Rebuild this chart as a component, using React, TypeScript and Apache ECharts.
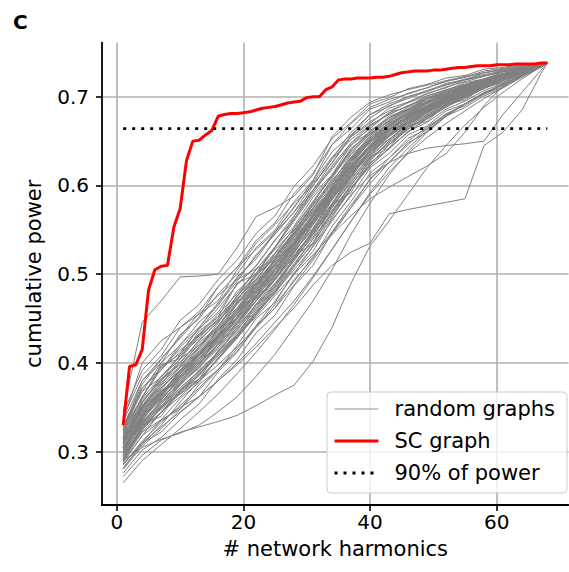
import React, { useEffect, useRef } from "react";
import * as echarts from "echarts";

// x positions (number of network harmonics)
const harmonics = [
  1, 2, 3, 4, 5, 6, 7, 8, 9, 10, 11, 12, 13, 14, 15, 16, 17, 18, 19, 20,
  21, 22, 23, 24, 25, 26, 27, 28, 29, 30, 31, 32, 33, 34, 35, 36, 37, 38, 39, 40,
  41, 42, 43, 44, 45, 46, 47, 48, 49, 50, 51, 52, 53, 54, 55, 56, 57, 58, 59, 60,
  61, 62, 63, 64, 65, 66, 67, 68,
];

// cumulative power of the SC graph
const scGraph = [
  0.330, 0.396, 0.398, 0.415, 0.482, 0.505, 0.509, 0.510, 0.553, 0.574,
  0.628, 0.650, 0.651, 0.657, 0.662, 0.678, 0.680, 0.681, 0.681, 0.682,
  0.683, 0.685, 0.687, 0.688, 0.689, 0.691, 0.693, 0.694, 0.695, 0.699,
  0.700, 0.700, 0.708, 0.711, 0.719, 0.720, 0.720, 0.721, 0.721, 0.721,
  0.722, 0.722, 0.723, 0.725, 0.727, 0.728, 0.729, 0.729, 0.729, 0.730,
  0.730, 0.731, 0.732, 0.733, 0.733, 0.734, 0.735, 0.735, 0.735, 0.736,
  0.736, 0.736, 0.737, 0.737, 0.737, 0.737, 0.738, 0.738,
];

// 90% of total power
const powerThreshold = 0.664;
const thresholdRange = [1, 68];

// harmonics at which random graph curves were read
const sampledHarmonics = [1, 4, 7, 10, 13, 16, 19, 22, 25, 28, 31, 34, 37, 40, 43, 46, 49, 52, 55, 58, 61, 64, 67, 68];

// random graphs cumulative power (thousandths)
const randomGraphs = [
  [345, 446, 470, 497, 498, 500, 530, 565, 575, 588, 612, 655, 677, 694, 702, 708, 713, 718, 723, 727, 731, 734, 737, 738],
  [335, 400, 425, 440, 455, 470, 505, 535, 556, 580, 600, 630, 660, 680, 692, 700, 707, 714, 720, 725, 729, 733, 737, 738],
  [325, 380, 405, 428, 452, 486, 508, 528, 548, 575, 606, 646, 670, 688, 697, 703, 710, 717, 722, 727, 731, 734, 737, 738],
  [320, 372, 392, 421, 440, 466, 492, 522, 545, 570, 595, 626, 656, 676, 690, 698, 706, 713, 719, 724, 728, 732, 736, 738],
  [316, 362, 396, 410, 433, 455, 478, 505, 531, 562, 592, 620, 645, 666, 682, 694, 703, 711, 717, 723, 728, 732, 736, 738],
  [313, 352, 377, 401, 425, 447, 471, 498, 520, 549, 580, 612, 640, 660, 676, 688, 698, 706, 713, 720, 726, 731, 736, 738],
  [309, 349, 372, 392, 416, 441, 468, 492, 516, 542, 572, 600, 631, 652, 668, 680, 690, 700, 709, 717, 723, 729, 736, 738],
  [305, 338, 363, 386, 405, 428, 456, 480, 506, 533, 560, 590, 621, 643, 660, 674, 686, 696, 705, 714, 721, 728, 735, 738],
  [300, 333, 356, 378, 398, 421, 446, 470, 498, 526, 552, 580, 610, 636, 655, 670, 682, 693, 703, 712, 720, 727, 735, 738],
  [296, 326, 349, 372, 391, 412, 438, 462, 490, 515, 545, 572, 601, 628, 650, 666, 680, 691, 701, 711, 719, 727, 735, 738],
  [286, 312, 333, 352, 372, 393, 413, 440, 466, 492, 520, 548, 578, 606, 631, 650, 666, 680, 692, 703, 713, 723, 734, 738],
  [290, 318, 335, 350, 362, 380, 398, 418, 440, 462, 488, 510, 525, 535, 568, 573, 577, 581, 585, 645, 660, 685, 726, 738],
  [272, 296, 313, 322, 328, 334, 341, 352, 364, 375, 402, 440, 490, 532, 560, 590, 620, 645, 668, 688, 705, 720, 734, 738],
  [302, 331, 352, 372, 390, 410, 431, 455, 480, 505, 531, 560, 590, 611, 626, 636, 642, 645, 647, 650, 680, 705, 730, 738],
  [298, 340, 360, 375, 398, 430, 470, 500, 530, 565, 600, 630, 652, 668, 680, 690, 698, 705, 712, 719, 725, 730, 736, 738],
  [318, 350, 375, 405, 420, 438, 455, 475, 498, 525, 552, 585, 618, 645, 666, 682, 694, 703, 711, 718, 724, 730, 736, 738],
  [308, 355, 382, 398, 418, 445, 475, 506, 528, 550, 575, 608, 640, 662, 676, 686, 695, 703, 711, 718, 724, 730, 736, 738],
  [292, 330, 358, 385, 410, 432, 452, 478, 505, 535, 566, 595, 622, 642, 658, 672, 684, 695, 705, 714, 722, 729, 736, 738],
  [315, 345, 368, 388, 412, 436, 458, 483, 510, 538, 568, 598, 628, 650, 667, 680, 690, 699, 708, 716, 722, 729, 736, 738],
  [303, 342, 365, 382, 405, 425, 452, 478, 500, 528, 558, 586, 612, 638, 658, 672, 684, 694, 704, 713, 720, 728, 735, 738],
  [312, 358, 380, 400, 420, 442, 466, 490, 512, 536, 565, 592, 615, 638, 656, 670, 683, 695, 705, 714, 721, 728, 735, 738],
  [306, 336, 360, 382, 402, 426, 450, 474, 500, 532, 562, 592, 624, 650, 668, 680, 689, 698, 707, 715, 722, 729, 736, 738],
  [298, 328, 354, 380, 400, 418, 442, 470, 496, 522, 548, 578, 608, 632, 652, 668, 682, 694, 704, 713, 721, 728, 735, 738],
  [325, 368, 384, 408, 432, 452, 472, 495, 520, 546, 574, 604, 632, 654, 670, 682, 692, 701, 709, 717, 723, 729, 736, 738],
  [288, 318, 345, 368, 388, 410, 434, 460, 488, 518, 550, 584, 615, 640, 658, 672, 684, 695, 705, 714, 721, 728, 735, 738],
  [310, 344, 362, 380, 400, 420, 446, 475, 505, 535, 562, 588, 612, 634, 652, 668, 682, 694, 704, 713, 721, 728, 735, 738],
  [300, 336, 362, 392, 418, 440, 462, 485, 510, 535, 560, 588, 618, 644, 662, 676, 687, 697, 706, 714, 721, 728, 735, 738],
  [282, 308, 330, 356, 380, 405, 430, 455, 482, 510, 540, 570, 600, 628, 650, 666, 680, 692, 702, 712, 720, 728, 735, 738],
  [320, 352, 372, 392, 410, 428, 450, 472, 495, 520, 548, 578, 610, 640, 662, 678, 690, 700, 709, 717, 723, 729, 736, 738],
  [305, 340, 370, 395, 412, 432, 458, 488, 518, 548, 578, 606, 630, 650, 664, 676, 687, 697, 706, 714, 721, 728, 735, 738],
  [296, 322, 344, 366, 386, 408, 432, 458, 486, 516, 545, 575, 606, 634, 656, 672, 684, 694, 704, 713, 721, 728, 735, 738],
  [314, 350, 374, 396, 418, 442, 468, 494, 520, 545, 570, 596, 622, 646, 663, 676, 688, 698, 707, 715, 722, 729, 736, 738],
  [290, 324, 350, 375, 396, 418, 444, 470, 494, 520, 548, 580, 612, 640, 660, 674, 686, 696, 705, 714, 721, 728, 735, 738],
  [300, 330, 348, 365, 380, 398, 418, 440, 462, 488, 516, 545, 575, 602, 626, 646, 664, 679, 692, 704, 714, 724, 734, 738],
  [308, 340, 360, 380, 402, 424, 448, 470, 494, 520, 546, 572, 598, 622, 642, 660, 676, 690, 702, 712, 720, 728, 735, 738],
  [322, 360, 385, 408, 428, 450, 475, 500, 524, 552, 582, 612, 638, 658, 672, 684, 694, 703, 711, 718, 724, 730, 736, 738],
  [295, 325, 345, 362, 382, 405, 430, 456, 484, 512, 540, 568, 596, 624, 646, 664, 678, 690, 701, 711, 720, 728, 735, 738],
  [285, 310, 328, 345, 362, 380, 400, 422, 446, 470, 498, 528, 560, 590, 615, 636, 654, 670, 684, 698, 710, 722, 734, 738],
  [302, 332, 358, 385, 408, 430, 455, 480, 505, 530, 556, 584, 612, 636, 656, 671, 684, 695, 705, 714, 721, 728, 735, 738],
  [312, 346, 366, 384, 404, 428, 455, 485, 515, 545, 575, 602, 628, 648, 664, 677, 688, 698, 707, 715, 722, 729, 736, 738],
  [299, 338, 366, 390, 410, 430, 452, 476, 502, 530, 560, 590, 620, 644, 662, 676, 688, 698, 707, 715, 722, 729, 736, 738],
  [316, 348, 368, 388, 408, 430, 452, 478, 505, 532, 562, 594, 626, 652, 670, 683, 693, 702, 710, 717, 723, 729, 736, 738],
  [280, 306, 326, 348, 370, 392, 416, 442, 470, 500, 532, 564, 596, 624, 646, 663, 677, 689, 700, 710, 719, 727, 735, 738],
  [290, 305, 314, 321, 330, 345, 362, 385, 410, 440, 470, 505, 545, 580, 612, 638, 660, 678, 692, 704, 714, 724, 734, 738],
  [265, 290, 308, 326, 345, 365, 388, 412, 438, 466, 496, 528, 560, 592, 620, 642, 662, 678, 692, 704, 714, 724, 734, 738],
  [330, 372, 395, 415, 430, 448, 468, 490, 514, 540, 568, 598, 628, 652, 668, 681, 692, 701, 709, 717, 723, 729, 736, 738],
  [304, 334, 354, 376, 396, 416, 440, 466, 494, 524, 556, 588, 618, 642, 660, 674, 686, 696, 705, 714, 721, 728, 735, 738],
  [310, 342, 366, 388, 410, 434, 460, 486, 512, 538, 566, 594, 622, 646, 663, 676, 687, 697, 706, 714, 721, 728, 735, 738],
  [286, 310, 336, 348, 376, 392, 420, 450, 468, 502, 526, 562, 588, 620, 636, 657, 667, 684, 692, 705, 713, 725, 734, 738],
  [334, 380, 400, 432, 450, 478, 500, 530, 550, 582, 606, 638, 657, 680, 689, 700, 706, 715, 719, 727, 730, 734, 737, 738],
  [291, 322, 336, 360, 378, 406, 428, 458, 478, 510, 534, 570, 596, 626, 641, 661, 671, 686, 695, 707, 715, 726, 734, 738],
  [329, 368, 400, 420, 446, 465, 497, 517, 547, 570, 603, 625, 655, 670, 687, 694, 704, 710, 719, 723, 729, 733, 737, 738],
  [296, 328, 344, 368, 386, 414, 436, 466, 486, 518, 542, 577, 603, 632, 646, 666, 675, 690, 698, 710, 716, 727, 735, 738],
  [324, 362, 393, 412, 439, 457, 489, 509, 539, 562, 595, 618, 648, 664, 682, 689, 701, 707, 716, 720, 728, 731, 737, 738],
  [300, 335, 351, 377, 394, 422, 444, 474, 494, 527, 550, 585, 609, 639, 652, 670, 679, 694, 701, 712, 718, 728, 735, 738],
  [320, 355, 385, 404, 431, 449, 481, 501, 531, 554, 587, 610, 642, 658, 676, 685, 698, 703, 713, 718, 726, 730, 737, 738],
  [281, 310, 322, 344, 362, 390, 412, 442, 462, 494, 518, 554, 582, 614, 631, 653, 664, 681, 690, 703, 711, 724, 734, 738],
  [339, 386, 408, 440, 458, 486, 508, 538, 558, 591, 614, 646, 664, 686, 694, 704, 710, 718, 722, 729, 732, 735, 738, 738],
  [305, 340, 359, 384, 402, 430, 452, 482, 502, 535, 558, 592, 616, 645, 657, 675, 683, 697, 703, 714, 720, 728, 736, 738],
  [315, 349, 378, 396, 423, 441, 473, 493, 523, 546, 579, 603, 635, 652, 671, 680, 694, 700, 711, 716, 724, 730, 736, 738],
  [276, 302, 316, 336, 354, 382, 404, 434, 454, 487, 510, 547, 575, 608, 626, 648, 660, 678, 688, 701, 710, 723, 733, 738],
  [344, 392, 415, 448, 466, 494, 516, 546, 566, 599, 622, 653, 671, 692, 699, 709, 714, 721, 724, 731, 733, 736, 738, 738],
  [310, 347, 366, 392, 410, 437, 460, 489, 510, 542, 566, 599, 623, 650, 662, 679, 686, 700, 705, 716, 721, 730, 736, 738],
  [325, 372, 392, 418, 438, 462, 488, 510, 538, 566, 594, 622, 648, 668, 680, 690, 699, 707, 714, 720, 726, 731, 736, 738],
  [322, 360, 398, 405, 436, 452, 490, 500, 530, 560, 590, 612, 646, 660, 678, 686, 698, 704, 713, 719, 725, 731, 736, 738],
  [292, 326, 350, 368, 392, 412, 440, 466, 490, 518, 548, 575, 604, 630, 648, 664, 678, 690, 700, 710, 719, 727, 735, 738],
  [288, 330, 340, 370, 382, 414, 430, 465, 480, 520, 535, 578, 592, 632, 642, 668, 672, 692, 696, 712, 716, 728, 734, 738],
  [318, 356, 382, 400, 426, 446, 476, 498, 524, 552, 582, 610, 636, 658, 673, 685, 694, 703, 711, 718, 724, 730, 736, 738],
  [300, 334, 356, 378, 400, 422, 450, 474, 500, 528, 556, 585, 614, 638, 656, 671, 684, 694, 704, 713, 721, 728, 735, 738],
  [310, 352, 380, 410, 440, 468, 495, 520, 548, 576, 604, 632, 655, 672, 684, 693, 701, 708, 714, 720, 726, 731, 736, 738],
  [305, 332, 350, 366, 382, 404, 428, 454, 480, 508, 536, 566, 596, 622, 642, 660, 675, 688, 699, 709, 718, 727, 735, 738],
  [294, 340, 364, 392, 410, 426, 450, 482, 508, 534, 560, 588, 616, 640, 658, 672, 685, 696, 705, 714, 721, 728, 735, 738],
  [316, 348, 366, 382, 410, 438, 466, 488, 510, 536, 566, 598, 632, 656, 670, 681, 690, 699, 708, 716, 722, 729, 736, 738],
  [308, 342, 372, 392, 408, 430, 456, 486, 518, 546, 572, 596, 620, 644, 664, 678, 688, 697, 706, 714, 721, 729, 736, 738],
  [302, 336, 362, 388, 414, 438, 460, 482, 506, 534, 564, 596, 626, 650, 666, 678, 689, 699, 707, 715, 722, 729, 736, 738],
  [313, 350, 368, 386, 406, 432, 462, 490, 516, 544, 570, 594, 620, 646, 664, 678, 689, 698, 707, 715, 722, 729, 736, 738],
  [295, 328, 350, 370, 388, 408, 430, 452, 476, 500, 522, 545, 566, 585, 598, 610, 622, 636, 660, 690, 712, 726, 735, 738],
  [328, 376, 404, 430, 456, 476, 494, 506, 516, 534, 560, 592, 628, 656, 674, 686, 696, 704, 712, 718, 724, 730, 736, 738],
];

const xTicks = [0, 20, 40, 60];
const yTicks = [0.3, 0.4, 0.5, 0.6, 0.7];
const legendNames = ["random graphs", "SC graph", "90% of power"];

const FONT = "DejaVu Sans";

export default function App() {
  const ref = useRef<HTMLDivElement>(null);

  useEffect(() => {
    if (!ref.current) return;
    const chart = echarts.init(ref.current, null, { renderer: "svg" });

    const randomSeries = randomGraphs.map((vals) => ({
      type: "line",
      name: legendNames[0],
      data: sampledHarmonics.map((x, i) => [x, vals[i] / 1000]),
      symbol: "none",
      silent: true,
      z: 2,
      itemStyle: { color: "#808080" },
      lineStyle: { color: "#808080", width: 1 },
    }));

    const option: any = {
      animation: false,
      backgroundColor: "#ffffff",
      textStyle: { fontFamily: FONT },
      grid: { left: 102, right: 0.5, top: 42.6, bottom: 67, containLabel: false },
      xAxis: {
        type: "value",
        min: -2.35,
        max: 71.35,
        name: "# network harmonics",
        nameLocation: "middle",
        nameGap: 33,
        nameTextStyle: { fontFamily: FONT, fontSize: 21, color: "#000" },
        axisLine: { show: true, onZero: false, lineStyle: { color: "#000", width: 1.8 } },
        axisTick: { show: true, length: 6, lineStyle: { color: "#000", width: 1.6 }, customValues: xTicks },
        axisLabel: { fontFamily: FONT, fontSize: 20, color: "#000", margin: 7, customValues: xTicks },
        splitLine: { show: true, lineStyle: { color: "#b0b0b0", width: 1.6 } },
      },
      yAxis: {
        type: "value",
        min: 0.24,
        max: 0.761,
        name: "cumulative power",
        nameLocation: "middle",
        nameGap: 58,
        nameRotate: 90,
        nameTextStyle: { fontFamily: FONT, fontSize: 21, color: "#000" },
        axisLine: { show: true, onZero: false, lineStyle: { color: "#000", width: 1.8 } },
        axisTick: { show: true, length: 6, lineStyle: { color: "#000", width: 1.6 }, customValues: yTicks },
        axisLabel: {
          fontFamily: FONT,
          fontSize: 20,
          color: "#000",
          margin: 13,
          customValues: yTicks,
          formatter: (v: number) => v.toFixed(1),
        },
        splitLine: { show: true, lineStyle: { color: "#b0b0b0", width: 1.6 } },
      },
      legend: {
        orient: "vertical",
        left: 327,
        top: 392,
        data: [
          { name: legendNames[0], lineStyle: { color: "#909090", width: 1.2 } },
          { name: legendNames[1], lineStyle: { color: "#ff0000", width: 3 } },
          { name: legendNames[2], lineStyle: { color: "#000000", width: 2.8, type: [3, 6] } },
        ],
        selectedMode: false,
        itemWidth: 44,
        itemHeight: 14,
        itemGap: 10,
        padding: [6, 12, 9, 6],
        itemStyle: { opacity: 0 },
        backgroundColor: "rgba(255,255,255,0.8)",
        borderColor: "#cccccc",
        borderWidth: 1,
        borderRadius: 4,
        textStyle: { fontFamily: FONT, fontSize: 21, color: "#000", lineHeight: 22, padding: [0, 0, 0, 11] },
      },
      graphic: [
        {
          type: "text",
          left: 13,
          top: 12,
          style: { text: "C", font: `bold 20px "${FONT}"`, fill: "#000" },
        },
      ],
      series: [
        ...randomSeries,
        {
          type: "line",
          name: legendNames[1],
          data: harmonics.map((x, i) => [x, scGraph[i]]),
          symbol: "none",
          z: 3,
          itemStyle: { color: "#ff0000" },
          lineStyle: { color: "#ff0000", width: 3 },
        },
        {
          type: "line",
          name: legendNames[2],
          data: thresholdRange.map((x) => [x, powerThreshold]),
          symbol: "none",
          z: 4,
          itemStyle: { color: "#000000" },
          lineStyle: { color: "#000000", width: 2.8, type: [3, 6], cap: "butt" },
        },
      ],
    };

    chart.setOption(option);
    return () => chart.dispose();
  }, []);

  return (
    <div
      ref={ref}
      style={{ position: "fixed", left: 0, top: 0, width: 569, height: 572, background: "#fff" }}
    />
  );
}
